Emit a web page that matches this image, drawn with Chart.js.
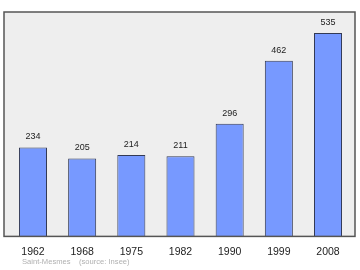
<!DOCTYPE html>
<html><head><meta charset="utf-8">
<script src="https://cdn.jsdelivr.net/npm/chart.js@4"></script>
<style>html,body{margin:0;padding:0;background:#fff}#c{display:block}</style>
</head><body>
<canvas id="c" width="360" height="270"></canvas>
<script>
const categories = ["1962","1968","1975","1982","1990","1999","2008"];
const population = [234,205,214,211,296,462,535];
const footerText = "Saint-Mesmes    (source: Insee)";

const framePlugin = {
  id: 'frame',
  beforeDatasetsDraw(chart) {
    const {ctx, chartArea: a} = chart;
    ctx.save();
    ctx.fillStyle = '#eeeeee';
    ctx.fillRect(4, a.top, 351, a.bottom - a.top);
    ctx.restore();
  },
  afterDatasetsDraw(chart) {
    const {ctx, chartArea: a} = chart;
    ctx.save();
    ctx.strokeStyle = '#555555';
    ctx.lineWidth = 1.5;
    ctx.strokeRect(4, a.top, 351, a.bottom - a.top);
    const meta = chart.getDatasetMeta(0);
    ctx.fillStyle = '#222';
    ctx.font = '9px "Liberation Sans", Arial, sans-serif';
    ctx.textAlign = 'center';
    ctx.textBaseline = 'middle';
    meta.data.forEach((bar, i) => {
      ctx.fillText(String(population[i]), bar.x, bar.y - 10.5);
    });
    ctx.fillStyle = '#b0b0b0';
    ctx.font = '7.6px "Liberation Sans", Arial, sans-serif';
    ctx.textAlign = 'left';
    ctx.fillText(footerText, 22, 262);
    ctx.restore();
  }
};

new Chart(document.getElementById('c'), {
  type: 'bar',
  data: {
    labels: categories,
    datasets: [{
      data: population,
      backgroundColor: '#7799ff',
      borderColor: '#333a55',
      borderWidth: 1,
      borderSkipped: 'bottom',
      categoryPercentage: 1,
      barPercentage: 0.57
    }]
  },
  options: {
    responsive: false,
    animation: false,
    layout: {padding: {left: 8.4, right: 7.4, top: 12, bottom: 3}},
    plugins: {legend: {display: false}, tooltip: {enabled: false}},
    scales: {
      x: {
        grid: {display: false, drawTicks: false},
        border: {display: false},
        ticks: {color: '#222', font: {family: '"Liberation Sans", Arial, sans-serif', size: 10.5}, padding: 9}
      },
      y: {display: false, min: 0, max: 590}
    }
  },
  plugins: [framePlugin]
});
</script>
</body></html>
